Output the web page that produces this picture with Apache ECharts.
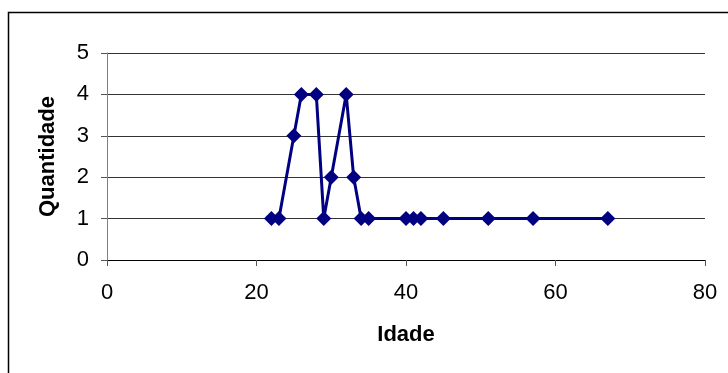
<!DOCTYPE html>
<html>
<head>
<meta charset="utf-8">
<script src="https://cdn.jsdelivr.net/npm/echarts@6/dist/echarts.min.js"></script>
<style>html,body{margin:0;padding:0;background:#fff;}#c{width:728px;height:373px;}</style>
</head>
<body>
<div id="c"></div>
<script>
const idade = [22, 23, 25, 26, 28, 29, 30, 32, 33, 34, 35, 40, 41, 42, 45, 51, 57, 67];
const quantidade = [1, 1, 3, 4, 4, 1, 2, 4, 2, 1, 1, 1, 1, 1, 1, 1, 1, 1];
const xTicks = [0, 20, 40, 60, 80];
const yTicks = [0, 1, 2, 3, 4, 5];

const chart = echarts.init(document.getElementById('c'), null, {renderer: 'canvas'});
const font = 'Liberation Sans, Arial, sans-serif';
chart.setOption({
  animation: false,
  backgroundColor: '#fff',
  graphic: [{
    type: 'rect', silent: true, z: 100,
    shape: {x: 8.5, y: 12.5, width: 800, height: 500},
    style: {fill: 'none', stroke: '#000', lineWidth: 1.5}
  }],
  grid: {left: 107, right: 23, top: 53, bottom: 113, containLabel: false},
  xAxis: {
    type: 'value',
    min: xTicks[0], max: xTicks[xTicks.length - 1], interval: 20,
    name: 'Idade', nameLocation: 'middle', nameGap: 64,
    nameTextStyle: {fontFamily: font, fontSize: 22, fontWeight: 'bold', color: '#000'},
    axisLine: {show: true, lineStyle: {color: '#000', width: 1}},
    axisTick: {show: true, length: 6, lineStyle: {color: '#555'}},
    axisLabel: {fontFamily: font, fontSize: 22, color: '#000', margin: 22},
    splitLine: {show: false}
  },
  yAxis: {
    type: 'value',
    min: yTicks[0], max: yTicks[yTicks.length - 1], interval: 1,
    name: 'Quantidade', nameLocation: 'middle', nameGap: 48, nameRotate: 90,
    nameTextStyle: {fontFamily: font, fontSize: 22, fontWeight: 'bold', color: '#000'},
    axisLine: {show: true, lineStyle: {color: '#808080', width: 1}},
    axisTick: {show: true, length: 6, lineStyle: {color: '#555'}},
    axisLabel: {fontFamily: font, fontSize: 22, color: '#000', margin: 18},
    splitLine: {show: true, lineStyle: {color: '#333', width: 1}}
  },
  series: [{
    type: 'line',
    data: idade.map((x, i) => [x, quantidade[i]]),
    symbol: 'diamond', symbolSize: 15,
    lineStyle: {color: '#000080', width: 3},
    itemStyle: {color: '#000080'},
    z: 10
  }]
});
</script>
</body>
</html>
